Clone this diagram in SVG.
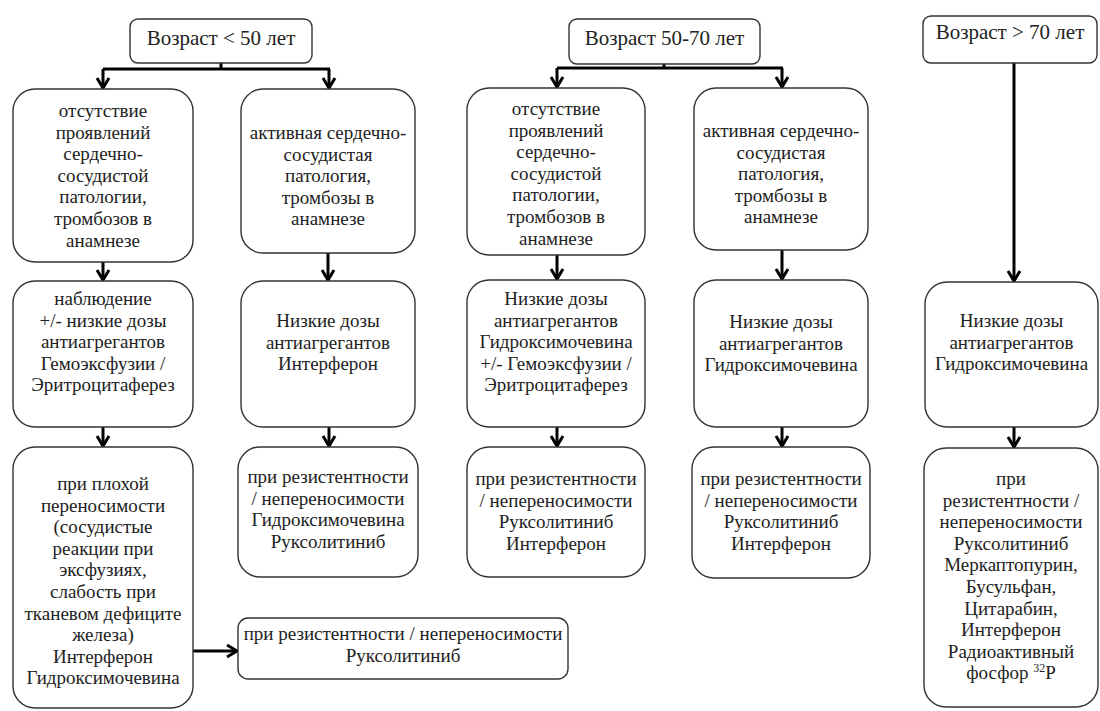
<svg xmlns="http://www.w3.org/2000/svg" width="1100" height="711" viewBox="0 0 1100 711">
<style>
.box{fill:#fff;stroke:#333;stroke-width:1.4}
.t{font-family:"Liberation Serif","Times New Roman",serif;font-size:19px;fill:#222;text-anchor:middle}
.tt{font-family:"Liberation Serif","Times New Roman",serif;font-size:21px;fill:#222;text-anchor:middle}
.c{fill:none;stroke:#000;stroke-width:3}
</style>
<defs>
<marker id="ah" markerUnits="userSpaceOnUse" markerWidth="16" markerHeight="16" viewBox="0 0 16 16" refX="13" refY="8" orient="auto">
<path d="M3,2 L13,8 L3,14" fill="none" stroke="#000" stroke-width="3"/>
</marker>
</defs>
<rect width="1100" height="711" fill="#fff"/>
<g id="connectors">
<path class="c" d="M221,63 V69 M103,69 H330"/>
<path class="c" d="M103,69 V88" marker-end="url(#ah)"/>
<path class="c" d="M329,69 V88" marker-end="url(#ah)"/>
<path class="c" d="M664,64 V68 M557,68 H783"/>
<path class="c" d="M557,68 V87" marker-end="url(#ah)"/>
<path class="c" d="M782,68 V87" marker-end="url(#ah)"/>
<path class="c" d="M1014,63 V281" marker-end="url(#ah)"/>
<path class="c" d="M103,262 V280" marker-end="url(#ah)"/>
<path class="c" d="M328,253 V280" marker-end="url(#ah)"/>
<path class="c" d="M557,255 V279" marker-end="url(#ah)"/>
<path class="c" d="M782,250 V279" marker-end="url(#ah)"/>
<path class="c" d="M103,427 V446" marker-end="url(#ah)"/>
<path class="c" d="M329,427 V446" marker-end="url(#ah)"/>
<path class="c" d="M557,427 V446" marker-end="url(#ah)"/>
<path class="c" d="M782,427 V446" marker-end="url(#ah)"/>
<path class="c" d="M1014,427 V447" marker-end="url(#ah)"/>
<path class="c" d="M193,651 H237" marker-end="url(#ah)"/>
</g>
<g id="t1"><rect class="box" x="130" y="19" width="182" height="44" rx="8"/><text class="tt" x="221" y="45">Возраст &lt; 50 лет</text></g>
<g id="t2"><rect class="box" x="569" y="19" width="191" height="45" rx="8"/><text class="tt" x="664.5" y="45">Возраст 50-70 лет</text></g>
<g id="t3"><rect class="box" x="923" y="16" width="174" height="47" rx="8"/><text class="tt" x="1010" y="39">Возраст &gt; 70 лет</text></g>

<g id="a1"><rect class="box" x="13" y="89" width="180" height="173" rx="22"/>
<text class="t" x="103" y="117">отсутствие</text><text class="t" x="103" y="138.6">проявлений</text><text class="t" x="103" y="160.2">сердечно-</text><text class="t" x="103" y="181.8">сосудистой</text><text class="t" x="103" y="203.4">патологии,</text><text class="t" x="103" y="225">тромбозов в</text><text class="t" x="103" y="246.6">анамнезе</text></g>
<g id="b1"><rect class="box" x="241" y="89" width="174" height="164" rx="22"/>
<text class="t" x="328" y="139">активная сердечно-</text><text class="t" x="328" y="160.6">сосудистая</text><text class="t" x="328" y="182.2">патология,</text><text class="t" x="328" y="203.8">тромбозы в</text><text class="t" x="328" y="225.4">анамнезе</text></g>
<g id="c1"><rect class="box" x="467" y="88" width="178" height="167" rx="22"/>
<text class="t" x="556" y="115">отсутствие</text><text class="t" x="556" y="136.6">проявлений</text><text class="t" x="556" y="158.2">сердечно-</text><text class="t" x="556" y="179.8">сосудистой</text><text class="t" x="556" y="201.4">патологии,</text><text class="t" x="556" y="223">тромбозов в</text><text class="t" x="556" y="244.6">анамнезе</text></g>
<g id="d1"><rect class="box" x="694" y="88" width="174" height="162" rx="22"/>
<text class="t" x="781" y="137">активная сердечно-</text><text class="t" x="781" y="158.6">сосудистая</text><text class="t" x="781" y="180.2">патология,</text><text class="t" x="781" y="201.8">тромбозы в</text><text class="t" x="781" y="223.4">анамнезе</text></g>

<g id="a2"><rect class="box" x="13" y="281" width="180" height="146" rx="22"/>
<text class="t" x="103" y="305">наблюдение</text><text class="t" x="103" y="326.6">+/- низкие дозы</text><text class="t" x="103" y="348.2">антиагрегантов</text><text class="t" x="103" y="369.8">Гемоэксфузии /</text><text class="t" x="103" y="391.4">Эритроцитаферез</text></g>
<g id="b2"><rect class="box" x="241" y="281" width="174" height="146" rx="22"/>
<text class="t" x="328" y="327">Низкие дозы</text><text class="t" x="328" y="348.6">антиагрегантов</text><text class="t" x="328" y="370.2">Интерферон</text></g>
<g id="c2"><rect class="box" x="467" y="280" width="178" height="147" rx="22"/>
<text class="t" x="556" y="305">Низкие дозы</text><text class="t" x="556" y="326.6">антиагрегантов</text><text class="t" x="556" y="348.2">Гидроксимочевина</text><text class="t" x="556" y="369.8">+/- Гемоэксфузии /</text><text class="t" x="556" y="391.4">Эритроцитаферез</text></g>
<g id="d2"><rect class="box" x="694" y="280" width="174" height="147" rx="22"/>
<text class="t" x="781" y="328">Низкие дозы</text><text class="t" x="781" y="349.6">антиагрегантов</text><text class="t" x="781" y="371.2">Гидроксимочевина</text></g>
<g id="e2"><rect class="box" x="925" y="282" width="173" height="145" rx="22"/>
<text class="t" x="1011.5" y="327">Низкие дозы</text><text class="t" x="1011.5" y="348.6">антиагрегантов</text><text class="t" x="1011.5" y="370.2">Гидроксимочевина</text></g>

<g id="a3"><rect class="box" x="13" y="447" width="180" height="261" rx="22"/>
<text class="t" x="103" y="490">при плохой</text><text class="t" x="103" y="511.6">переносимости</text><text class="t" x="103" y="533.2">(сосудистые</text><text class="t" x="103" y="554.8">реакции при</text><text class="t" x="103" y="576.4">эксфузиях,</text><text class="t" x="103" y="598">слабость при</text><text class="t" x="103" y="619.6">тканевом дефиците</text><text class="t" x="103" y="641.2">железа)</text><text class="t" x="103" y="662.8">Интерферон</text><text class="t" x="103" y="684.4">Гидроксимочевина</text></g>
<g id="b3"><rect class="box" x="238" y="447" width="180" height="130" rx="22"/>
<text class="t" x="328" y="483">при резистентности</text><text class="t" x="328" y="504.6">/ непереносимости</text><text class="t" x="328" y="526.2">Гидроксимочевина</text><text class="t" x="328" y="547.8">Руксолитиниб</text></g>
<g id="c3"><rect class="box" x="467" y="447" width="178" height="130" rx="22"/>
<text class="t" x="556" y="485">при резистентности</text><text class="t" x="556" y="506.6">/ непереносимости</text><text class="t" x="556" y="528.2">Руксолитиниб</text><text class="t" x="556" y="549.8">Интерферон</text></g>
<g id="d3"><rect class="box" x="692" y="447" width="178" height="131" rx="22"/>
<text class="t" x="781" y="485">при резистентности</text><text class="t" x="781" y="506.6">/ непереносимости</text><text class="t" x="781" y="528.2">Руксолитиниб</text><text class="t" x="781" y="549.8">Интерферон</text></g>
<g id="e3"><rect class="box" x="924" y="448" width="174" height="259" rx="22"/>
<text class="t" x="1011" y="485">при</text><text class="t" x="1011" y="506.6">резистентности /</text><text class="t" x="1011" y="528.2">непереносимости</text><text class="t" x="1011" y="549.8">Руксолитиниб</text><text class="t" x="1011" y="571.4">Меркаптопурин,</text><text class="t" x="1011" y="593">Бусульфан,</text><text class="t" x="1011" y="614.6">Цитарабин,</text><text class="t" x="1011" y="636.2">Интерферон</text><text class="t" x="1011" y="657.8">Радиоактивный</text><text class="t" x="1011" y="679.4">фосфор <tspan font-size="12" dy="-7">32</tspan><tspan dy="7">P</tspan></text></g>
<g id="f"><rect class="box" x="238" y="618" width="330" height="61" rx="10"/>
<text class="t" x="403" y="640">при резистентности / непереносимости</text><text class="t" x="403" y="661.6">Руксолитиниб</text></g>
</svg>
